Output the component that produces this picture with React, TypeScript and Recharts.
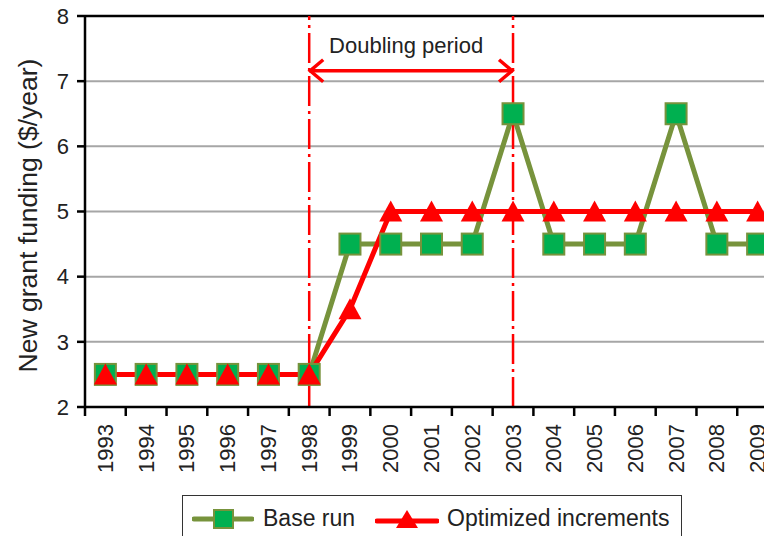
import React from 'react';
import { LineChart, Line, XAxis, YAxis, CartesianGrid, ReferenceLine, Label } from 'recharts';

// --- DATA ---
const years = ['1993', '1994', '1995', '1996', '1997', '1998', '1999', '2000', '2001', '2002', '2003', '2004', '2005', '2006', '2007', '2008', '2009'];
const baseRun = [2.5, 2.5, 2.5, 2.5, 2.5, 2.5, 4.5, 4.5, 4.5, 4.5, 6.5, 4.5, 4.5, 4.5, 6.5, 4.5, 4.5];
const optimized = [2.5, 2.5, 2.5, 2.5, 2.5, 2.5, 3.5, 5, 5, 5, 5, 5, 5, 5, 5, 5, 5];
const yTicks = [2, 3, 4, 5, 6, 7, 8];
const doublingStart = '1998';
const doublingEnd = '2003';
const arrowLevel = 7.16;

const chartData = years.map((y, i) => ({ year: y, base: baseRun[i], opt: optimized[i] }));

// --- STYLE ---
const FONT = '"Liberation Sans", Arial, sans-serif';
const TEXT = '#222';
const OLIVE = '#77933C';
const GREEN = '#00B050';
const RED = '#FF0000';
const PLOT_LEFT = 85;
const PLOT_RIGHT = 778;
const BAND = (PLOT_RIGHT - PLOT_LEFT) / years.length;

const SquareDot = (props: any) => {
    const { cx, cy } = props;
    if (cx == null || cy == null) return null;
    return <rect x={cx - 10.5} y={cy - 10.5} width={21} height={21} fill={GREEN} stroke={OLIVE} strokeWidth={2} />;
};

const TriangleDot = (props: any) => {
    const { cx, cy } = props;
    if (cx == null || cy == null) return null;
    return <polygon points={`${cx},${cy - 11} ${cx + 11.5},${cy + 10} ${cx - 11.5},${cy + 10}`} fill={RED} />;
};

// tick marks sit on the band edges, labels in the band centre
const YearTick = (props: any) => {
    const { x, y, payload } = props;
    const off = BAND / 2;
    return (
        <g>
            <line x1={x - off} y1={y} x2={x - off} y2={y + 9} stroke="#000" strokeWidth={2.5} />
            <text
                x={x}
                y={y + 17}
                transform={`rotate(-90, ${x}, ${y + 17})`}
                textAnchor="end"
                dominantBaseline="central"
                fontSize={22}
                fontFamily={FONT}
                fill={TEXT}
            >
                {payload.value}
            </text>
        </g>
    );
};

const DoublingArrow = (props: any) => {
    const { x1, y1, x2, y2 } = props;
    if (x1 == null) return null;
    const mid = (x1 + x2) / 2;
    return (
        <g>
            <line x1={x1} y1={y1} x2={x2} y2={y2} stroke={RED} strokeWidth={3.5} />
            <polyline points={`${x1 + 14},${y1 - 11} ${x1 + 1},${y1} ${x1 + 14},${y1 + 11}`} fill="none" stroke={RED} strokeWidth={3.5} />
            <polyline points={`${x2 - 14},${y2 - 11} ${x2 - 1},${y2} ${x2 - 14},${y2 + 11}`} fill="none" stroke={RED} strokeWidth={3.5} />
            <text x={mid - 5} y={y1 - 18} textAnchor="middle" fontSize={22} fontFamily={FONT} fill={TEXT}>
                Doubling period
            </text>
        </g>
    );
};

const LegendBox = () => (
    <div
        style={{
            position: 'absolute',
            left: 182,
            top: 495,
            width: 500,
            height: 47,
            border: '1.5px solid #333',
            background: '#fff',
            display: 'flex',
            alignItems: 'center',
            fontFamily: FONT,
            fontSize: 23,
            color: TEXT,
            boxSizing: 'border-box',
        }}
    >
        <svg width={62} height={24} style={{ marginLeft: 9 }}>
            <line x1={2} y1={12} x2={60} y2={12} stroke={OLIVE} strokeWidth={5} strokeLinecap="round" />
            <rect x={22} y={3} width={19} height={18} fill={GREEN} stroke={OLIVE} strokeWidth={2} />
        </svg>
        <span style={{ marginLeft: 9 }}>Base run</span>
        <svg width={64} height={24} style={{ marginLeft: 20 }}>
            <line x1={2} y1={14} x2={62} y2={14} stroke={RED} strokeWidth={5} strokeLinecap="round" />
            <polygon points="32,3 43,21 21,21" fill={RED} />
        </svg>
        <span style={{ marginLeft: 8 }}>Optimized increments</span>
    </div>
);

export default function App() {
    return (
        <div style={{ position: 'relative', margin: -8, width: 772, height: 544, overflow: 'hidden', background: '#fff' }}>
            <LineChart width={790} height={544} data={chartData} margin={{ top: 16, right: 12, left: 0, bottom: 0 }}>
                <CartesianGrid vertical={false} stroke="#a6a6a6" strokeWidth={2} />
                <XAxis
                    dataKey="year"
                    scale="band"
                    interval={0}
                    height={137}
                    tickLine={false}
                    tickSize={0}
                    tickMargin={0}
                    axisLine={{ stroke: '#000', strokeWidth: 2.5 }}
                    tick={<YearTick />}
                />
                <YAxis
                    domain={[2, 8]}
                    ticks={yTicks}
                    width={85}
                    tickSize={8}
                    tickMargin={8}
                    tickLine={{ stroke: '#000', strokeWidth: 2.5 }}
                    axisLine={{ stroke: '#000', strokeWidth: 2.5 }}
                    tick={{ fontSize: 22, fontFamily: FONT, fill: TEXT }}
                >
                    <Label
                        value="New grant funding ($/year)"
                        angle={-90}
                        position="center"
                        dx={-15}
                        dy={4}
                        style={{ fontSize: 26.5, fontFamily: FONT, fill: TEXT }}
                    />
                </YAxis>
                <ReferenceLine y={8} stroke="#000" strokeWidth={2.5} />
                <Line
                    type="linear"
                    dataKey="base"
                    name="Base run"
                    stroke={OLIVE}
                    strokeWidth={5}
                    dot={<SquareDot />}
                    activeDot={false}
                    isAnimationActive={false}
                />
                <Line
                    type="linear"
                    dataKey="opt"
                    name="Optimized increments"
                    stroke={RED}
                    strokeWidth={5}
                    dot={<TriangleDot />}
                    activeDot={false}
                    isAnimationActive={false}
                />
                <ReferenceLine x={doublingStart} stroke={RED} strokeWidth={2.5} strokeDasharray="30 5 3 5" />
                <ReferenceLine x={doublingEnd} stroke={RED} strokeWidth={2.5} strokeDasharray="30 5 3 5" />
                <ReferenceLine
                    segment={[{ x: doublingStart, y: arrowLevel }, { x: doublingEnd, y: arrowLevel }]}
                    shape={<DoublingArrow />}
                />
            </LineChart>
            <LegendBox />
        </div>
    );
}
